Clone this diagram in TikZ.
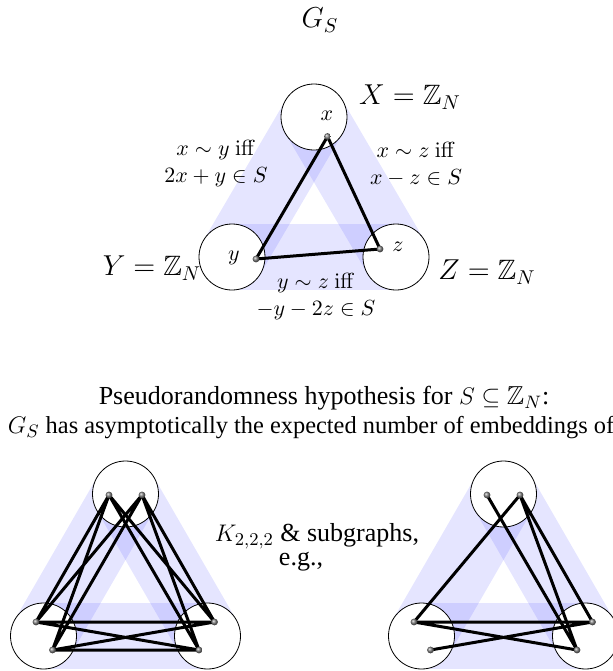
\documentclass[tikz,border=0pt]{standalone}
\usepackage[no-math]{fontspec}
\setmainfont{Liberation Serif}
\usepackage{amsmath,amssymb}
\usetikzlibrary{positioning}

\begin{document}
\begin{tikzpicture}[
      x=0.5pt, y=-0.5pt,
      part/.style={draw, fill=white, circle, minimum size=33pt, inner sep=0pt, line width=0.4pt},
      band/.style={line width=33pt, blue, opacity=0.1},
      vtx/.style={circle, inner sep=0pt, minimum size=3.4pt, shading=ball, ball color=gray},
      link/.style={line width=1.5pt, black},
      lbl/.style={font=\fontsize{11}{13.5}\selectfont, align=center},
      pname/.style={font=\fontsize{14}{16}\selectfont},
      txt/.style={font=\fontsize{13}{15.5}\selectfont, align=center}
    ]
      \useasboundingbox (0,0) rectangle (613,671);

      % G_S on top
      \node[font=\fontsize{14}{16}\selectfont] (title) at (320,20) {$G_S$};

      % bands of the three parts
      \coordinate (cX) at (314,117);
      \coordinate (cY) at (232,257);
      \coordinate (cZ) at (396,257);
      \draw[band] (cX) -- (cY);
      \draw[band] (cX) -- (cZ);
      \draw[band] (cY) -- (cZ);

      \node[part] (X) at (cX) {};
      \node[part] (Y) at (cY) {};
      \node[part] (Z) at (cZ) {};
      \node[lbl] at (327,116) {$x$};
      \node[lbl] at (234,258) {$y$};
      \node[lbl] at (398,247) {$z$};

      \node[pname] (Xname) at (410,97) {$X=\mathbb{Z}_N$};
      \node[pname] (Yname) at (152,268) {$Y=\mathbb{Z}_N$};
      \node[pname] (Zname) at (487,272) {$Z=\mathbb{Z}_N$};

      % one edge per pair
      \coordinate (px) at (327.5,136.5);
      \coordinate (py) at (256,259);
      \coordinate (pz) at (380,249);
      \draw[link] (px) -- (py) -- (pz) -- cycle;
      \node[vtx] at (px) {};
      \node[vtx] at (py) {};
      \node[vtx] at (pz) {};

      \node[lbl] (rxy) at (216,164) {$x\sim y\ \mathrm{iff}$\\$2x+y\in S$};
      \node[lbl] (rxz) at (416,164) {$x\sim z\ \mathrm{iff}$\\$x-z\in S$};
      \node[lbl] (ryz) at (316,297) {$y\sim z\ \mathrm{iff}$\\$-y-2z\in S$};

      % hypothesis text
      \node[txt] (hyp) at (324,398) {Pseudorandomness hypothesis for $S\subseteq\mathbb{Z}_N$:};
      \node[txt, font=\fontsize{12.2}{14.5}\selectfont] (hyp2) at (311,428) {$G_S$ has asymptotically the expected number of embeddings of};
      \node[txt] (k222) at (317,536) {$K_{2,2,2}$ \& subgraphs,};
      \node[txt] (eg) at (301,562) {e.g.,};

      % K_{2,2,2}
      \coordinate (lX) at (125.5,494);
      \coordinate (lY) at (43.5,636);
      \coordinate (lZ) at (207.5,636);
      \draw[band] (lX) -- (lY);
      \draw[band] (lX) -- (lZ);
      \draw[band] (lY) -- (lZ);
      \node[part] (LX) at (lX) {};
      \node[part] (LY) at (lY) {};
      \node[part] (LZ) at (lZ) {};
      \coordinate (a1) at (109,495);
      \coordinate (a2) at (142,495);
      \coordinate (b1) at (36,622);
      \coordinate (b2) at (52.5,650);
      \coordinate (c1) at (214.5,622);
      \coordinate (c2) at (199,650);
      \draw[link] (a1) -- (b1) (a1) -- (b2) (a2) -- (b1) (a2) -- (b2);
      \draw[link] (a1) -- (c1) (a1) -- (c2) (a2) -- (c1) (a2) -- (c2);
      \draw[link] (b1) -- (c1) (b1) -- (c2) (b2) -- (c1) (b2) -- (c2);
      \node[vtx] at (a1) {};
      \node[vtx] at (a2) {};
      \node[vtx] at (b1) {};
      \node[vtx] at (b2) {};
      \node[vtx] at (c1) {};
      \node[vtx] at (c2) {};

      % a subgraph
      \coordinate (rX) at (503.5,494);
      \coordinate (rY) at (421.5,636);
      \coordinate (rZ) at (585.5,636);
      \draw[band] (rX) -- (rY);
      \draw[band] (rX) -- (rZ);
      \draw[band] (rY) -- (rZ);
      \node[part] (RX) at (rX) {};
      \node[part] (RY) at (rY) {};
      \node[part] (RZ) at (rZ) {};
      \coordinate (d1) at (487,495);
      \coordinate (d2) at (520,495);
      \coordinate (e1) at (414,622);
      \coordinate (e2) at (430.5,650);
      \coordinate (f1) at (592.5,622);
      \coordinate (f2) at (577,650);
      \draw[link] (d1) -- (f2) (d2) -- (e1) (d2) -- (f1) (d2) -- (f2);
      \draw[link] (e1) -- (f1) (e1) -- (f2) (e2) -- (f1);
      \node[vtx] at (d1) {};
      \node[vtx] at (d2) {};
      \node[vtx] at (e1) {};
      \node[vtx] at (e2) {};
      \node[vtx] at (f1) {};
      \node[vtx] at (f2) {};
    \end{tikzpicture}
\end{document}
